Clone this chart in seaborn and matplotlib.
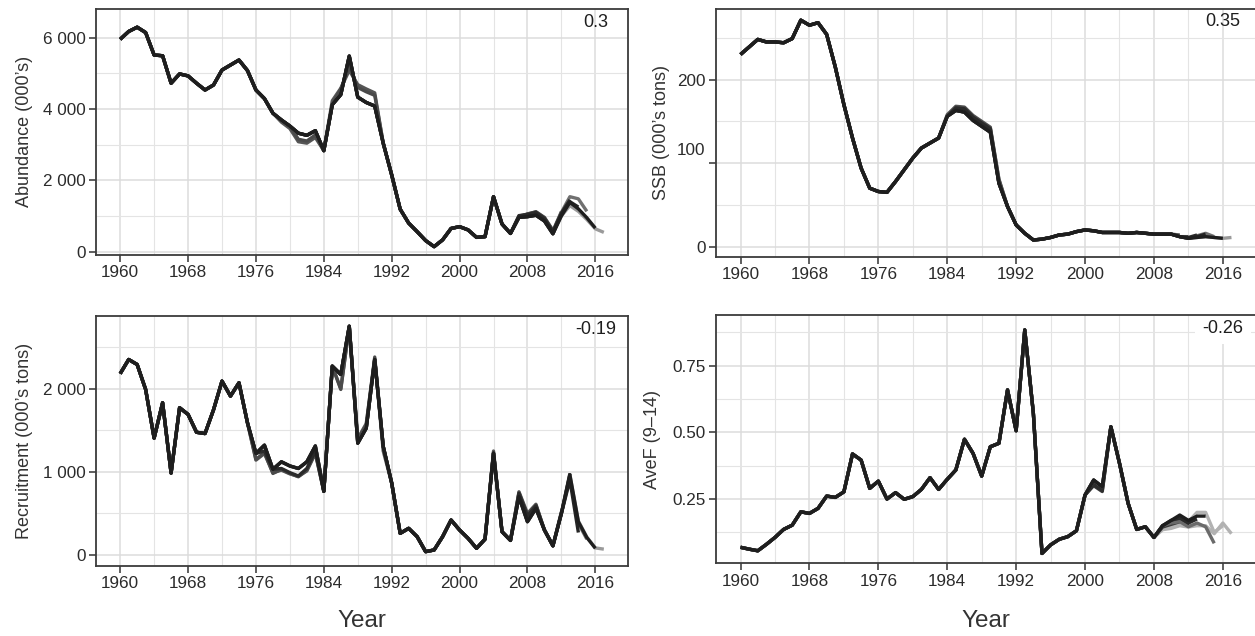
import matplotlib
matplotlib.use("Agg")
import matplotlib.pyplot as plt
import matplotlib.transforms as mtransforms
from matplotlib.ticker import FixedLocator, FuncFormatter
import pandas as pd
import seaborn as sns

# ---------------------------------------------------------------- data
years = list(range(1960, 2018))
runs = [2017, 2016, 2015, 2014, 2013, 2012, 2011]   # terminal year of each retrospective run

abundance = [5950, 6170, 6290, 6140, 5510, 5490, 4720, 4980, 4925, 4720,
             4530, 4670, 5090, 5230, 5370, 5075, 4530, 4290, 3880, 3690,
             3520, 3320, 3260, 3390, 2830, 4120, 4400, 5480, 4330, 4180,
             4080, 3040, 2150, 1190, 800, 560, 310, 140, 330, 650,
             700, 610, 400, 420, 1540, 775, 510, 960, 980, 1020,
             860, 500, 1000, 1380, 1200, 950, 660, 540]
abundance_retro = {
    2017: {2013: 1290, 2014: 1130, 2015: 900, 2016: 640, 2017: 540},
    2015: {2012: 1100, 2013: 1540, 2014: 1480, 2015: 1130},
    2014: {2012: 1050, 2013: 1400, 2014: 1250},
    2013: {2007: 1010, 2008: 1040, 2009: 1100, 2010: 930, 2011: 560, 2012: 1080, 2013: 1450},
    2012: {1981: 3150, 1982: 3100, 1983: 3270, 1986: 4550, 1987: 5200, 1988: 4600,
           1989: 4480, 1990: 4380, 2008: 1060, 2009: 1110, 2010: 950, 2011: 580, 2012: 1120},
    2011: {1979: 3630, 1980: 3450, 1981: 3080, 1982: 3040, 1983: 3200, 1985: 4230,
           1986: 4580, 1987: 5080, 1988: 4680, 1989: 4560, 1990: 4450, 2007: 1000,
           2008: 1050, 2009: 1120, 2010: 960, 2011: 600},
}

ssb = [230, 239, 248, 245, 245, 244, 249, 271, 265, 268,
       254, 215, 170, 130, 94, 70, 66, 65, 78, 92,
       106, 118, 124, 130, 156, 163, 161, 151, 144, 137,
       76, 48, 26, 16, 8, 9, 11, 14, 15, 18,
       20, 19, 17, 17, 17, 16, 17, 16, 15, 15,
       15, 12, 10, 11, 12, 11, 10, 11]
ssb_retro = {
    2017: {2013: 11, 2014: 12, 2015: 11, 2016: 10, 2017: 11},
    2015: {2013: 13, 2014: 16, 2015: 12},
    2014: {2013: 12, 2014: 15},
    2013: {1985: 166, 1986: 165, 1987: 155, 1988: 148, 1989: 141, 2012: 11, 2013: 14},
    2012: {1985: 167, 1986: 166, 1987: 156, 1988: 149, 1989: 142, 1990: 80, 2012: 12},
    2011: {1984: 158, 1985: 168, 1986: 167, 1987: 157, 1988: 150, 1989: 143, 1990: 81, 2011: 14},
}

recruitment = [2180, 2350, 2290, 1990, 1405, 1830, 985, 1770, 1690, 1475,
               1460, 1745, 2090, 1910, 2070, 1590, 1220, 1320, 1030, 1120,
               1070, 1040, 1120, 1310, 765, 2270, 2170, 2750, 1345, 1525,
               2350, 1305, 865, 260, 320, 220, 40, 60, 220, 420,
               300, 200, 80, 190, 1225, 280, 175, 700, 400, 560,
               300, 110, 500, 965, 400, 210, 80, 70]
recruitment_retro = {
    2017: {2014: 410, 2015: 215, 2016: 85, 2017: 70},
    2015: {2013: 930, 2014: 380, 2015: 190},
    2014: {2013: 900, 2014: 270},
    2013: {1977: 1250, 1979: 1040, 1980: 990, 1981: 950, 1982: 1040, 1983: 1250,
           2007: 740, 2008: 470, 2009: 590, 2013: 980},
    2012: {1976: 1150, 1977: 1230, 1978: 980, 1979: 1030, 1980: 980, 1981: 940,
           1982: 1020, 1983: 1230, 1986: 1990, 1988: 1380, 1989: 1560, 1990: 2380,
           2007: 750, 2008: 480, 2009: 600, 2012: 520},
    2011: {1976: 1140, 1977: 1220, 1978: 990, 1979: 1020, 1980: 975, 1981: 945,
           1982: 1010, 1983: 1220, 1986: 2000, 1988: 1400, 1989: 1580, 1990: 2360,
           1991: 1250, 2004: 1250, 2007: 760, 2008: 500, 2009: 610, 2011: 120},
}

avef = [0.069, 0.062, 0.056, 0.080, 0.106, 0.136, 0.152, 0.202, 0.196, 0.215,
        0.261, 0.256, 0.277, 0.419, 0.396, 0.290, 0.317, 0.250, 0.274, 0.249,
        0.259, 0.286, 0.330, 0.286, 0.324, 0.359, 0.474, 0.421, 0.336, 0.446,
        0.459, 0.659, 0.506, 0.884, 0.571, 0.046, 0.078, 0.099, 0.109, 0.131,
        0.265, 0.321, 0.296, 0.521, 0.384, 0.234, 0.136, 0.146, 0.106, 0.150,
        0.170, 0.190, 0.170, 0.186, 0.186, 0.150, 0.160, 0.120]
avef_retro = {
    2017: {2009: 0.135, 2010: 0.140, 2011: 0.150, 2012: 0.145, 2013: 0.150,
           2014: 0.150, 2015: 0.120, 2016: 0.160, 2017: 0.120},
    2016: {2009: 0.140, 2010: 0.150, 2011: 0.160, 2012: 0.165, 2013: 0.200,
           2014: 0.200, 2015: 0.125, 2016: 0.150},
    2015: {2010: 0.160, 2011: 0.165, 2012: 0.146, 2013: 0.160, 2014: 0.146, 2015: 0.084},
    2013: {2011: 0.180, 2012: 0.160, 2013: 0.175},
    2012: {2001: 0.305, 2002: 0.282, 2010: 0.160, 2011: 0.175, 2012: 0.150},
    2011: {2001: 0.300, 2002: 0.278, 2009: 0.145, 2010: 0.155, 2011: 0.165},
}

rho_labels = ["0.3", "0.35", "-0.19", "-0.26"]
y_titles = ["Abundance (000\u2019s)", "SSB (000\u2019s tons)",
            "Recruitment (000\u2019s tons)", "AveF (9\u201314)"]
x_title = "Year"
x_ticks = list(range(1960, 2017, 8))

# ---------------------------------------------------------------- style
sns.set_style("white")
plt.rcParams["font.family"] = ["Liberation Sans", "DejaVu Sans"]
TEXT_FONT = ["Liberation Sans", "DejaVu Sans"]
INK = "#2b2b2b"

dark = {2017: "#9a9a9a", 2016: "#1e1e1e", 2015: "#707070", 2014: "#242424",
        2013: "#2a2a2a", 2012: "#4a4a4a", 2011: "#555555"}
light_tail = dict(dark)
light_tail.update({2016: "#b2b2b2", 2017: "#b2b2b2", 2015: "#6a6a6a",
                   2012: "#2e2e2e", 2011: "#3a3a3a", 2014: "#1e1e1e"})
order_dark = [2011, 2012, 2017, 2015, 2013, 2014, 2016]
order_light = [2017, 2016, 2011, 2012, 2015, 2013, 2014]


def runs_frame(base, retro):
    rows = []
    for run in runs:
        changed = retro.get(run, {})
        for yr, v in zip(years, base):
            if yr > run:
                break
            rows.append((run, yr, changed.get(yr, v)))
    return pd.DataFrame(rows, columns=["run", "year", "value"])


def thousands(v, _pos=None):
    return f"{int(round(v)):,}".replace(",", " ")


fig = plt.figure(figsize=(12.55, 6.36), dpi=100)
W, H = 1255.0, 636.0


def add_axes(x0, x1, y0, y1):
    return fig.add_axes([x0 / W, 1 - y1 / H, (x1 - x0) / W, (y1 - y0) / H])


ax_ab = add_axes(96, 628, 9, 254.5)
ax_ssb = add_axes(716, 1256, 8.5, 256.7)
ax_rec = add_axes(96, 628, 316, 565.7)
ax_f = add_axes(716, 1256, 315, 563.3)

panels = [
    dict(ax=ax_ab, base=abundance, retro=abundance_retro, ylim=(-80, 6800),
         yt=[0, 2000, 4000, 6000], ym=[1000, 3000, 5000], fmt=thousands,
         colors=dark, order=order_dark, ylab_x=-0.118),
    dict(ax=ax_ssb, base=ssb, retro=ssb_retro, ylim=(-12, 285),
         yt=[0, 100, 200], ym=[50, 150, 250], fmt=lambda v, p=None: f"{int(v)}",
         colors=dark, order=order_dark, ylab_x=-0.085),
    dict(ax=ax_rec, base=recruitment, retro=recruitment_retro, ylim=(-129, 2873),
         yt=[0, 1000, 2000], ym=[500, 1500, 2500], fmt=thousands,
         colors=dark, order=order_dark, ylab_x=-0.118),
    dict(ax=ax_f, base=avef, retro=avef_retro, ylim=(0.009, 0.94),
         yt=[0.25, 0.50, 0.75], ym=[0.125, 0.375, 0.625, 0.875],
         fmt=lambda v, p=None: f"{v:.2f}", colors=light_tail, order=order_light,
         ylab_x=-0.101),
]

for i, p in enumerate(panels):
    ax = p["ax"]
    df = runs_frame(p["base"], p["retro"])
    sns.lineplot(data=df, x="year", y="value", hue="run", hue_order=p["order"],
                 palette=p["colors"], estimator=None, sort=False, lw=2.4,
                 legend=False, ax=ax)
    for ln in ax.lines:
        ln.set_solid_capstyle("butt")
        ln.set_solid_joinstyle("round")

    ax.set_xlim(1957.15, 2019.85)
    ax.set_ylim(*p["ylim"])
    ax.xaxis.set_major_locator(FixedLocator(x_ticks))
    ax.xaxis.set_minor_locator(FixedLocator([y + 4 for y in x_ticks]))
    ax.yaxis.set_major_locator(FixedLocator(p["yt"]))
    ax.yaxis.set_minor_locator(FixedLocator(p["ym"]))
    ax.yaxis.set_major_formatter(FuncFormatter(p["fmt"]))

    ax.set_axisbelow(True)
    ax.grid(which="major", color="#dcdcdc", lw=1.1)
    ax.grid(which="minor", color="#e4e4e4", lw=0.8)
    for s in ax.spines.values():
        s.set_visible(True)
        s.set_color("#3c3c3c")
        s.set_linewidth(1.3)
        s.set_zorder(3)
    ax.tick_params(which="major", direction="out", length=5, width=1.1,
                   color="#333333", labelsize=12.3, labelcolor=INK, pad=2.5,
                   bottom=True, left=True)
    ax.tick_params(which="minor", length=0)

    ax.set_xlabel(x_title if i >= 2 else "", fontsize=17.5, color="#333333",
                  family=TEXT_FONT)
    ax.set_ylabel(y_titles[i], fontsize=13, color="#333333", family=TEXT_FONT)
    ax.yaxis.set_label_coords(p["ylab_x"], 0.5)

    bbox = dict(boxstyle="square,pad=0.4", fc="white", ec="none") if i == 3 else None
    ax.annotate(rho_labels[i], xy=(2016, 1), xycoords=ax.get_xaxis_transform(),
                xytext=(0, -9.5), textcoords="offset points", ha="center",
                va="center", fontsize=13, color="#1e1e1e", family=TEXT_FONT,
                bbox=bbox, zorder=2.2)

ax_rec.xaxis.set_label_coords(0.5, -0.221)
ax_f.xaxis.set_label_coords(0.5, -0.232)
ax_rec.xaxis.label.set_va("center")
ax_f.xaxis.label.set_va("center")

# SSB tick labels sit progressively above their ticks
shift_pts = {0: 10.0, 100: 4.3, 200: 0.0}
for tick in ax_ssb.yaxis.get_major_ticks():
    dy = shift_pts.get(int(round(tick.get_loc())), 0.0)
    lab = tick.label1
    lab.set_transform(lab.get_transform() +
                      mtransforms.ScaledTranslation(0, dy / 72.0, fig.dpi_scale_trans))

fig.savefig("out.png", dpi=100, facecolor="white")
